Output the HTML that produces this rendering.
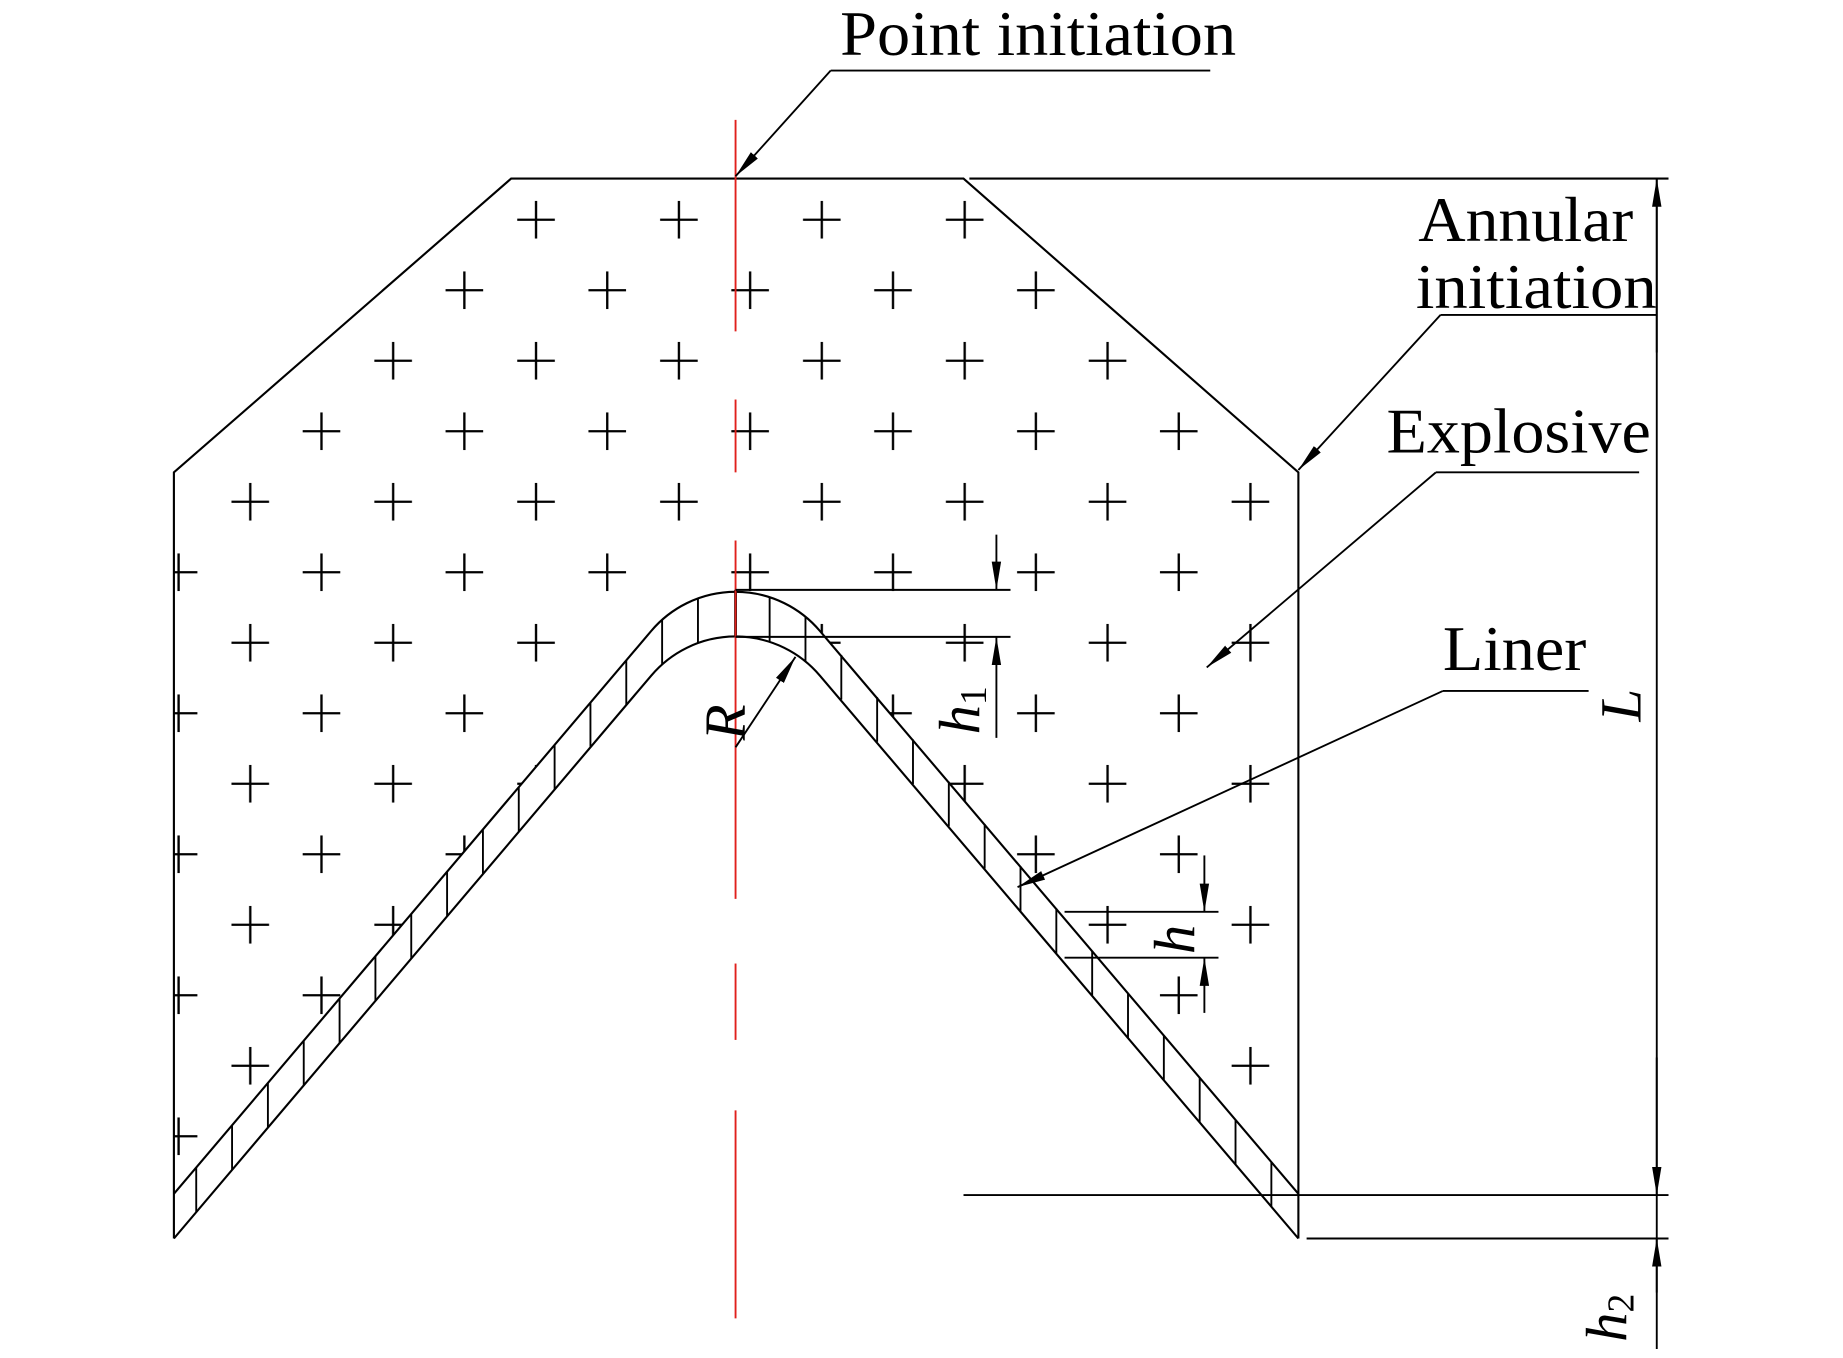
<!DOCTYPE html>
<html><head><meta charset="utf-8"><style>html,body{margin:0;padding:0;background:#fff;}svg{display:block;}</style></head>
<body>
<svg width="1843" height="1358" viewBox="0 0 1568.5 1155.7" preserveAspectRatio="none" xmlns="http://www.w3.org/2000/svg">
<defs>
<pattern id="pl" patternUnits="userSpaceOnUse" x="121.6" y="157" width="121.6" height="120">
<g stroke="#000" stroke-width="2">
<line x1="75.4" y1="30" x2="107.4" y2="30"/><line x1="91.4" y1="14" x2="91.4" y2="46"/>
<line x1="14.4" y1="90" x2="46.4" y2="90"/><line x1="30.4" y1="74" x2="30.4" y2="106"/>
<line x1="136" y1="90" x2="168" y2="90"/>
<line x1="-107.2" y1="90" x2="-75.2" y2="90"/>
</g>
</pattern>
<marker id="ar" markerUnits="userSpaceOnUse" markerWidth="26" markerHeight="12" refX="24" refY="5" orient="auto">
<path d="M0,1 L24,5 L0,9 Z" fill="#000"/>
</marker>
</defs>
<rect width="1568.5" height="1155.7" fill="#fff"/>
<!-- explosive fill -->
<path d="M148,402 L435,152 L820,152 L1105,402 L1105,1016 L697.8,537 A94,94 0 0 0 554.2,537 L148,1016 Z" fill="url(#pl)"/>
<g fill="none" stroke="#000" stroke-width="1.8">
<path d="M148,1054 L148,402 L435,152 L820,152 L1105,402 L1105,1054"/>
<line x1="825" y1="152" x2="1420" y2="152"/>
<path d="M148,1016 L554.2,537 A94,94 0 0 1 697.8,537 L1105,1016"/>
<path d="M148,1054 L554.2,575 A94,94 0 0 1 697.8,575 L1105,1054"/>
</g>
<g stroke="#000" stroke-width="1.6">
<line x1="167" y1="1031.6" x2="167" y2="993.6"/>
<line x1="197.5" y1="995.6" x2="197.5" y2="957.6"/>
<line x1="228" y1="959.7" x2="228" y2="921.7"/>
<line x1="258.5" y1="923.7" x2="258.5" y2="885.7"/>
<line x1="289" y1="887.8" x2="289" y2="849.8"/>
<line x1="319.5" y1="851.8" x2="319.5" y2="813.8"/>
<line x1="350" y1="815.8" x2="350" y2="777.8"/>
<line x1="380.5" y1="779.9" x2="380.5" y2="741.9"/>
<line x1="411" y1="743.9" x2="411" y2="705.9"/>
<line x1="441.5" y1="708" x2="441.5" y2="670"/>
<line x1="472" y1="672" x2="472" y2="634"/>
<line x1="502.5" y1="636" x2="502.5" y2="598"/>
<line x1="533" y1="600.1" x2="533" y2="562.1"/>
<line x1="563.5" y1="565.8" x2="563.5" y2="527.8"/>
<line x1="594" y1="547.6" x2="594" y2="509.6"/>
<line x1="655" y1="546.6" x2="655" y2="508.6"/>
<line x1="685.5" y1="563.2" x2="685.5" y2="525.2"/>
<line x1="716" y1="595.4" x2="716" y2="557.4"/>
<line x1="746.5" y1="631.3" x2="746.5" y2="593.3"/>
<line x1="777" y1="667.3" x2="777" y2="629.3"/>
<line x1="807.5" y1="703.2" x2="807.5" y2="665.2"/>
<line x1="838" y1="739.2" x2="838" y2="701.2"/>
<line x1="868.5" y1="775.2" x2="868.5" y2="737.2"/>
<line x1="899" y1="811.1" x2="899" y2="773.1"/>
<line x1="929.5" y1="847.1" x2="929.5" y2="809.1"/>
<line x1="960" y1="883" x2="960" y2="845"/>
<line x1="990.5" y1="919" x2="990.5" y2="881"/>
<line x1="1021" y1="955" x2="1021" y2="917"/>
<line x1="1051.5" y1="990.9" x2="1051.5" y2="952.9"/>
<line x1="1082" y1="1026.9" x2="1082" y2="988.9"/>
<line x1="626" y1="502" x2="626" y2="542" stroke-width="2.4"/>
</g>
<!-- red centre line -->
<g stroke="#e0201c" stroke-width="1.6">
<line x1="626" y1="102" x2="626" y2="282"/>
<line x1="626" y1="340" x2="626" y2="402"/>
<line x1="626" y1="460" x2="626" y2="765"/>
<line x1="626" y1="820" x2="626" y2="885"/>
<line x1="626" y1="945" x2="626" y2="1122"/>
</g>
<!-- dimensions -->
<g stroke="#000" stroke-width="1.6" fill="none">
<line x1="820" y1="1017" x2="1420" y2="1017"/>
<line x1="1112" y1="1054" x2="1420" y2="1054"/>
<line x1="1410" y1="152" x2="1410" y2="1017"/>
<line x1="1410" y1="1017" x2="1410" y2="1148"/>
<line x1="1410" y1="300" x2="1410" y2="152" marker-end="url(#ar)"/>
<line x1="1410" y1="900" x2="1410" y2="1017" marker-end="url(#ar)"/>
<line x1="1410" y1="1100" x2="1410" y2="1054" marker-end="url(#ar)"/>
<line x1="626" y1="502" x2="860" y2="502"/>
<line x1="626" y1="542" x2="860" y2="542"/>
<line x1="848" y1="455" x2="848" y2="502" marker-end="url(#ar)"/>
<line x1="848" y1="628" x2="848" y2="542" marker-end="url(#ar)"/>
<line x1="906" y1="776" x2="1037" y2="776"/>
<line x1="906" y1="815" x2="1037" y2="815"/>
<line x1="1025" y1="728" x2="1025" y2="776" marker-end="url(#ar)"/>
<line x1="1025" y1="862" x2="1025" y2="815" marker-end="url(#ar)"/>
<line x1="626" y1="636" x2="677" y2="559" marker-end="url(#ar)"/>
<!-- leaders -->
<polyline points="1030,60 707,60"/>
<line x1="707" y1="60" x2="626" y2="150" marker-end="url(#ar)"/>
<polyline points="1410,268 1226,268"/>
<line x1="1226" y1="268" x2="1105" y2="400" marker-end="url(#ar)"/>
<polyline points="1395,402 1222,402"/>
<line x1="1222" y1="402" x2="1027" y2="568" marker-end="url(#ar)"/>
<polyline points="1352,588 1228,588"/>
<line x1="1228" y1="588" x2="866" y2="755" marker-end="url(#ar)"/>
</g>
<g font-family="Liberation Serif, serif" fill="#000">
<text x="715" y="47" font-size="54" textLength="337" lengthAdjust="spacingAndGlyphs">Point initiation</text>
<text x="1207" y="205" font-size="54" textLength="183" lengthAdjust="spacingAndGlyphs">Annular</text>
<text x="1205" y="262" font-size="54" textLength="205" lengthAdjust="spacingAndGlyphs">initiation</text>
<text x="1180" y="385" font-size="54" textLength="225" lengthAdjust="spacingAndGlyphs">Explosive</text>
<text x="1228" y="570" font-size="54" textLength="122" lengthAdjust="spacingAndGlyphs">Liner</text>
<g font-style="italic" font-size="50">
<text transform="translate(1396,614) rotate(-90)">L</text>
<text transform="translate(634,630) rotate(-90)">R</text>
<text transform="translate(833,625) rotate(-90)">h<tspan font-style="normal" font-size="32" dy="6">1</tspan></text>
<text transform="translate(1016,812) rotate(-90)">h</text>
<text transform="translate(1384,1142) rotate(-90)">h<tspan font-style="normal" font-size="32" dy="6">2</tspan></text>
</g>
</g>
</svg>
</body></html>
